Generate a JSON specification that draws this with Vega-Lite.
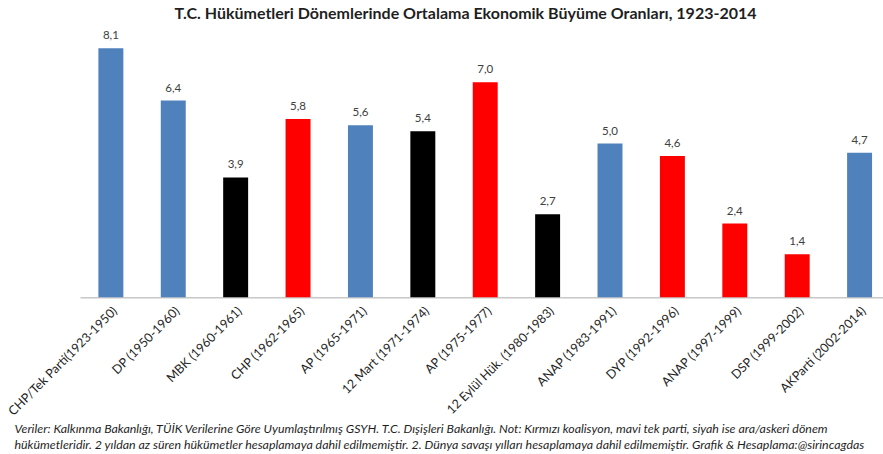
{
  "$schema": "https://vega.github.io/schema/vega-lite/v6.json",
  "autosize": {"type": "none"},
  "width": 803,
  "height": 267.4,
  "padding": {"left": 80, "top": 29.9, "right": 0, "bottom": 156.7},
  "background": "white",
  "title": {
    "text": "T.C. Hükümetleri Dönemlerinde Ortalama Ekonomik Büyüme Oranları, 1923-2014",
    "font": "Lato",
    "fontSize": 16,
    "fontWeight": "bold",
    "color": "#1f1f1f",
    "anchor": "middle",
    "dx": -16,
    "offset": 8
  },
  "data": {
    "values": [
      {"hukumet": "CHP/Tek Parti(1923-1950)", "buyume": 8.1, "tur": "tek parti"},
      {"hukumet": "DP (1950-1960)", "buyume": 6.4, "tur": "tek parti"},
      {"hukumet": "MBK (1960-1961)", "buyume": 3.9, "tur": "ara/askeri"},
      {"hukumet": "CHP (1962-1965)", "buyume": 5.8, "tur": "koalisyon"},
      {"hukumet": "AP (1965-1971)", "buyume": 5.6, "tur": "tek parti"},
      {"hukumet": "12 Mart (1971-1974)", "buyume": 5.4, "tur": "ara/askeri"},
      {"hukumet": "AP (1975-1977)", "buyume": 7.0, "tur": "koalisyon"},
      {"hukumet": "12 Eylül Hük. (1980-1983)", "buyume": 2.7, "tur": "ara/askeri"},
      {"hukumet": "ANAP (1983-1991)", "buyume": 5.0, "tur": "tek parti"},
      {"hukumet": "DYP (1992-1996)", "buyume": 4.6, "tur": "koalisyon"},
      {"hukumet": "ANAP (1997-1999)", "buyume": 2.4, "tur": "koalisyon"},
      {"hukumet": "DSP (1999-2002)", "buyume": 1.4, "tur": "koalisyon"},
      {"hukumet": "AKParti (2002-2014)", "buyume": 4.7, "tur": "tek parti"}
    ]
  },
  "encoding": {
    "x": {
      "field": "hukumet",
      "type": "nominal",
      "sort": null,
      "scale": {"paddingInner": 0.6, "paddingOuter": 0.235, "align": 0.627},
      "axis": {
        "labelAngle": -45,
        "labelFont": "Lato",
        "labelFontSize": 12.5,
        "labelColor": "#1f1f1f",
        "labelPadding": 7,
        "labelLimit": 300,
        "ticks": false,
        "grid": false,
        "domainColor": "#c8c8c8",
        "domainWidth": 1.5,
        "title": [
          "Veriler: Kalkınma Bakanlığı, TÜİK Verilerine Göre Uyumlaştırılmış GSYH. T.C. Dışişleri Bakanlığı. Not: Kırmızı koalisyon, mavi tek parti, siyah ise ara/askeri dönem",
          "hükümetleridir. 2 yıldan az süren hükümetler hesaplamaya dahil edilmemiştir. 2. Dünya savaşı yılları hesaplamaya dahil edilmemiştir. Grafik & Hesaplama:@sirincagdas"
        ],
        "titleFont": "Lato",
        "titleFontSize": 12.4,
        "titleFontStyle": "italic",
        "titleFontWeight": "normal",
        "titleColor": "#1f1f1f",
        "titleAlign": "left",
        "titleBaseline": "alphabetic",
        "titleAnchor": "start",
        "titleX": -66,
        "titleY": 134.7,
        "titleLineHeight": 16
      }
    },
    "y": {
      "field": "buyume",
      "type": "quantitative",
      "scale": {"domain": [0, 8.7], "nice": false, "zero": true},
      "axis": null
    }
  },
  "layer": [
    {
      "mark": {"type": "bar"},
      "encoding": {
        "color": {
          "field": "tur",
          "type": "nominal",
          "scale": {"domain": ["tek parti", "koalisyon", "ara/askeri"], "range": ["#4f81bd", "#ff0000", "#000000"]},
          "legend": null
        }
      }
    },
    {
      "mark": {"type": "text", "font": "Lato", "fontSize": 11.5, "color": "#404040", "baseline": "alphabetic", "dy": -9},
      "encoding": {
        "text": {"field": "buyume", "type": "quantitative", "format": ".1f"}
      }
    }
  ],
  "config": {
    "view": {"stroke": null},
    "locale": {"number": {"decimal": ",", "thousands": ".", "grouping": [3], "currency": ["", ""]}}
  }
}
